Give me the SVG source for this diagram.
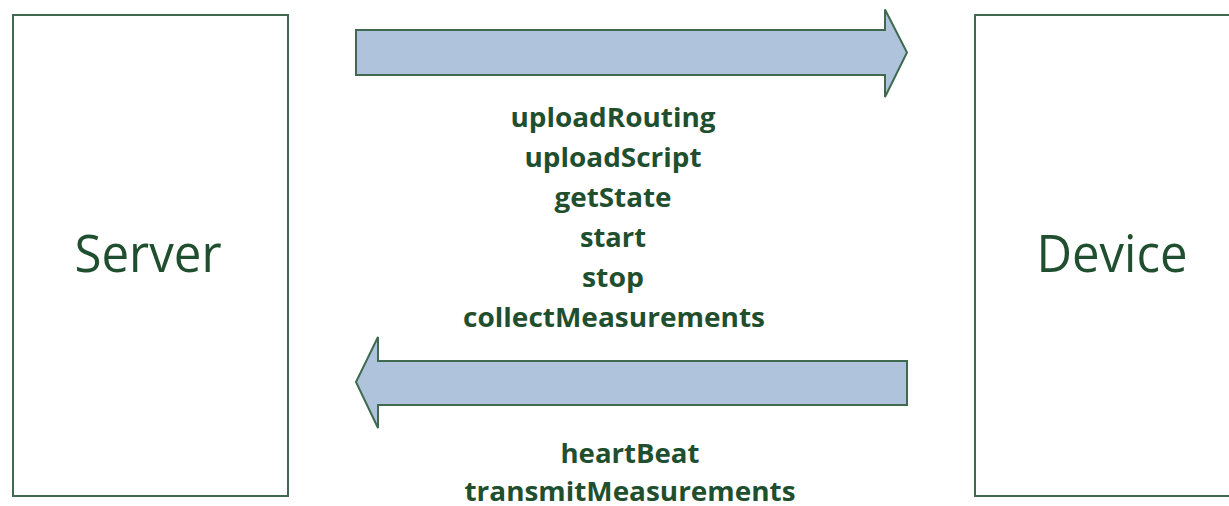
<svg xmlns="http://www.w3.org/2000/svg" width="1229" height="506" viewBox="0 0 1229 506">
<style>
.box{fill:#ffffff;stroke:#3f6a4f;stroke-width:2}
.arrow{fill:#b0c3dc;stroke:#3f6a4f;stroke-width:2;stroke-linejoin:miter}
.big{font-family:"Open Sans","Liberation Sans",sans-serif;font-size:51px;fill:#1f4f2e;text-anchor:middle}
.lbl{font-family:"Open Sans","Liberation Sans",sans-serif;font-weight:bold;font-size:27px;fill:#1f4f2e;text-anchor:middle}
</style>
<rect width="1229" height="506" fill="#ffffff"/>
<g id="server">
<rect class="box" x="13" y="15" width="275" height="481"/>
<text class="big" x="148" y="272" textLength="147" lengthAdjust="spacingAndGlyphs">Server</text>
</g>
<g id="device">
<rect class="box" x="975" y="15" width="270" height="481"/>
<text class="big" x="1112" y="272" textLength="151" lengthAdjust="spacingAndGlyphs">Device</text>
</g>
<g id="connectors">
<path class="arrow" d="M356,30 H885 V9.5 L907,52.5 L885,97 V75 H356 Z"/>
<path class="arrow" d="M907,361 H378 V337 L356,382 L378,428 V405 H907 Z"/>
</g>
<g id="labels-down">
<text class="lbl" x="613" y="127" textLength="205" lengthAdjust="spacingAndGlyphs">uploadRouting</text>
<text class="lbl" x="613" y="167" textLength="177" lengthAdjust="spacingAndGlyphs">uploadScript</text>
<text class="lbl" x="613" y="207" textLength="117" lengthAdjust="spacingAndGlyphs">getState</text>
<text class="lbl" x="613" y="247" textLength="66" lengthAdjust="spacingAndGlyphs">start</text>
<text class="lbl" x="613" y="287" textLength="62" lengthAdjust="spacingAndGlyphs">stop</text>
<text class="lbl" x="614" y="327" textLength="302" lengthAdjust="spacingAndGlyphs">collectMeasurements</text>
</g>
<g id="labels-up">
<text class="lbl" x="630" y="463" textLength="139" lengthAdjust="spacingAndGlyphs">heartBeat</text>
<text class="lbl" x="630" y="501" textLength="331" lengthAdjust="spacingAndGlyphs">transmitMeasurements</text>
</g>
</svg>
